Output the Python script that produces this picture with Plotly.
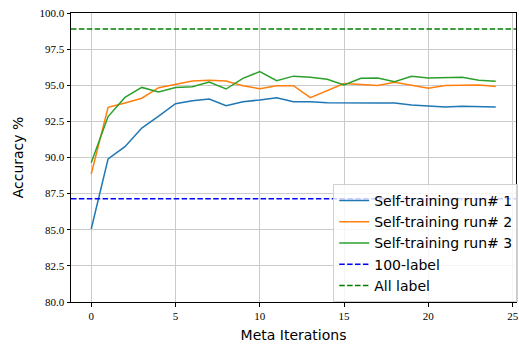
import plotly.graph_objects as go

iterations = list(range(25))
run1 = [85.05, 89.9, 90.75, 92.04, 92.87, 93.72, 93.93, 94.05, 93.59, 93.86, 93.98, 94.14, 93.86,
        93.86, 93.79, 93.77, 93.77, 93.77, 93.77, 93.63, 93.56, 93.49, 93.54, 93.5, 93.5]
run2 = [88.86, 93.47, 93.77, 94.1, 94.83, 95.04, 95.29, 95.34, 95.29, 94.97, 94.76, 94.97, 94.97,
        94.14, 94.62, 95.12, 95.06, 94.99, 95.2, 95.02, 94.79, 94.99, 95.02, 95.02, 94.92]
run3 = [89.64, 92.83, 94.16, 94.85, 94.53, 94.85, 94.9, 95.22, 94.74, 95.48, 95.94, 95.32, 95.63,
        95.55, 95.41, 95.02, 95.48, 95.5, 95.25, 95.62, 95.5, 95.55, 95.55, 95.34, 95.27]
label100 = 87.15
all_label = 98.9
series_names = ["Self-training run# 1", "Self-training run# 2", "Self-training run# 3"]
ref_names = ["100-label", "All label"]
y_ticks = [80.0, 82.5, 85.0, 87.5, 90.0, 92.5, 95.0, 97.5, 100.0]
x_ticks = [0, 5, 10, 15, 20, 25]

x_range = [-1.2, 25.2]
colors = ["#1f77b4", "#ff7f0e", "#2ca02c"]
dash = "5.5px,2.4px"

fig = go.Figure()
for name, vals, c in zip(series_names, [run1, run2, run3], colors):
    fig.add_trace(go.Scatter(x=iterations, y=vals, mode="lines", name=name,
                             line=dict(color=c, width=1.5)))
for name, val, c in zip(ref_names, [label100, all_label], ["#0000ff", "#008000"]):
    fig.add_trace(go.Scatter(x=x_range, y=[val, val], mode="lines", name=name,
                             line=dict(color=c, width=1.5, dash=dash)))

axis_common = dict(showline=True, linecolor="black", linewidth=1, mirror=True,
                   showgrid=True, gridcolor="#cbcbcb", gridwidth=1,
                   ticks="outside", ticklen=3.5, tickwidth=0.8, tickcolor="black",
                   zeroline=False,
                   tickfont=dict(family="Liberation Serif", size=11, color="black"))

fig.update_layout(
    width=519, height=345,
    margin=dict(l=71, r=1, t=13, b=43),
    paper_bgcolor="white", plot_bgcolor="white",
    xaxis=dict(range=x_range, tickvals=x_ticks,
               ticktext=[str(v) for v in x_ticks],
               title=dict(text="Meta Iterations", standoff=9,
                          font=dict(family="DejaVu Sans", size=14, color="black")),
               **axis_common),
    yaxis=dict(range=[80, 100], tickvals=y_ticks,
               ticktext=[f"{v:.1f}" for v in y_ticks],
               title=dict(text="Accuracy %", standoff=12,
                          font=dict(family="DejaVu Sans", size=14, color="black")),
               **axis_common),
    legend=dict(x=1.005, y=0.0, xanchor="right", yanchor="bottom",
                bgcolor="rgba(255,255,255,0.8)", bordercolor="#d0d0d0", borderwidth=1,
                font=dict(family="DejaVu Sans", size=14, color="black"),
                tracegroupgap=0, itemwidth=30),
    showlegend=True,
)

fig.write_html("out.html")
